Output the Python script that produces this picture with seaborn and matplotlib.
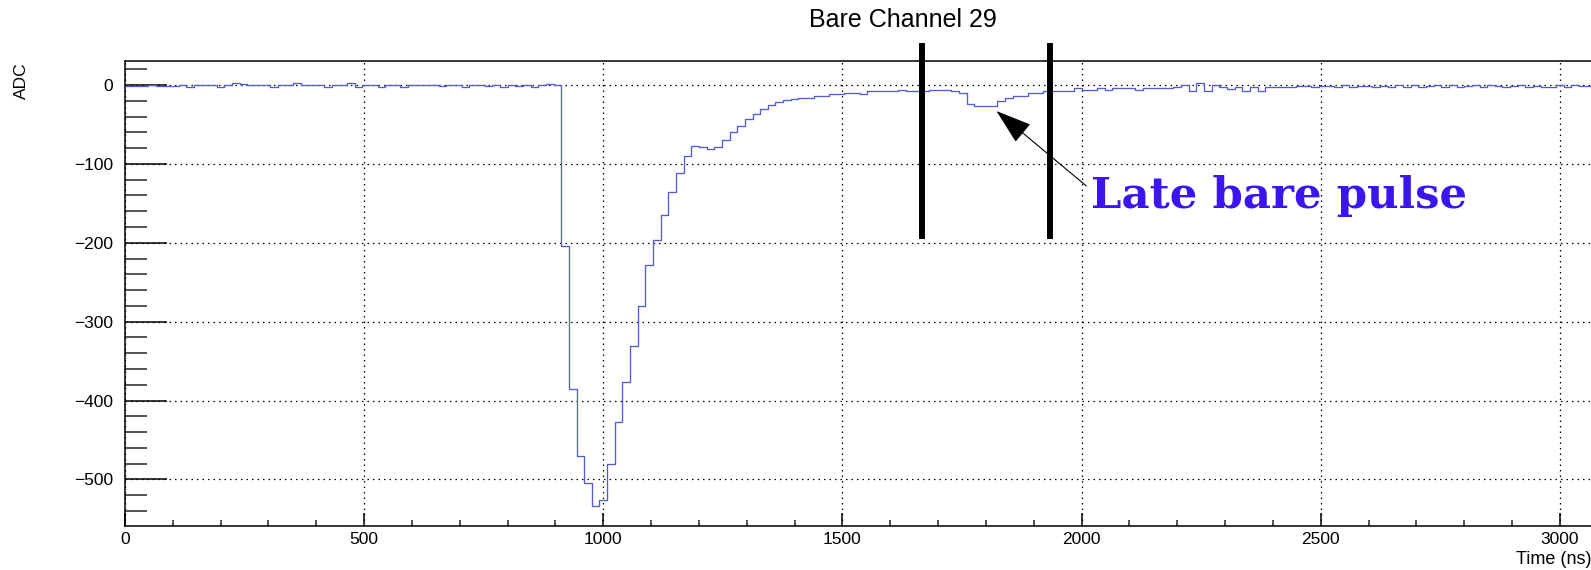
import numpy as np
import pandas as pd
import matplotlib
matplotlib.use("Agg")
import matplotlib.pyplot as plt
import seaborn as sns
from matplotlib.ticker import MultipleLocator

# ---------------- data ----------------
bin_width = 16  # ns
baseline_part = [-1, -1, -1, 0, -1, -1, -1, 0, -3, 0, 0, 0, -3, 0, 2, 1, 0, 0, 0, -3,
                 0, 0, 2, 0, 0, 0, -3, 0, 0, 2, -3, 0, 0, -2, 0, 0, -2, 0, 0, 0,
                 0, -1, 0, 0, -2, 0, 0, -1, 0, -2, 0, -1, 0, -2, 0, 1, 0]
pulse_part = [-204, -385, -470, -504, -534, -526, -480, -427, -377, -331,
              -280, -228, -196, -165, -135, -111, -90, -77, -79, -81,
              -79, -70, -59, -52, -43, -37, -30, -25, -22, -19,
              -18, -16, -16, -14, -14, -12, -12, -10, -10, -12,
              -8, -8, -8, -8, -6, -8, -8, -8, -6, -6,
              -6, -8, -10]
late_part = [-24, -27, -27, -27, -20, -17, -14, -14, -10, -10,
             -8, -8, -8, -8, -4, -6, -6, -4, -6, -4,
             -4, -4, -6, -4, -4, -4, -4, -2, 0, -7,
             2, -7, 0, -2, -5, -2, -8, -2, -8, -2]
tail_part = [-2, -2, -3, -1, -1, -3, -1, -1, -3, 0,
             -3, -1, -1, -3, -1, -2, 0, -2, 0, -3,
             -1, 0, -2, 0, -3, -1, 0, -2, 0, -1,
             -3, -1, 0, -2, -1, -3, -3, 0, -2, 0,
             -1, -1]
adc_values = baseline_part + pulse_part + late_part + tail_part
n_bins = len(adc_values)
time_centers = np.arange(n_bins) * bin_width + bin_width / 2

cut_lines_ns = [1667, 1934]
title_text = "Bare Channel 29"
annotation_text = "Late bare pulse"
arrow_tip = (1822, -33)
arrow_tail = (2010, -128)
x_label = "Time (ns)"
y_label = "ADC"

df = pd.DataFrame({"time": time_centers, "adc": adc_values})

# ---------------- style ----------------
sns.set_style("ticks")
plt.rcParams["font.family"] = ["Liberation Sans", "DejaVu Sans"]
plt.rcParams["axes.unicode_minus"] = True
plt.rcParams["text.color"] = "black"

W, H = 1591, 570
fig = plt.figure(figsize=(W / 100, H / 100), dpi=100)
ax_left, ax_right_px = 125, 1594.3
ax_top_px, ax_bot_px = 61, 525.5
ax = fig.add_axes([ax_left / W, 1 - ax_bot_px / H,
                   (ax_right_px - ax_left) / W, (ax_bot_px - ax_top_px) / H])

sns.histplot(data=df, x="time", weights="adc", binwidth=bin_width,
             binrange=(0, n_bins * bin_width),
             element="step", fill=False, color="#5a5ad0", linewidth=0.95, ax=ax)

ax.set_xlim(0, 3072)
ax.set_ylim(-558.3, 30.4)

# ROOT-like axes
for side in ["left", "bottom", "top", "right"]:
    ax.spines[side].set_linewidth(1.1)
    ax.spines[side].set_color("black")
ax.xaxis.set_major_locator(MultipleLocator(500))
ax.xaxis.set_minor_locator(MultipleLocator(100))
ax.yaxis.set_major_locator(MultipleLocator(100))
ax.yaxis.set_minor_locator(MultipleLocator(20))
ax.tick_params(axis="y", which="major", direction="in", length=30, width=1.1,
               labelsize=12.5, pad=8.5, colors="black")
ax.tick_params(axis="y", which="minor", direction="in", length=16, width=1.1)
ax.tick_params(axis="x", which="major", direction="in", length=9.4, width=1.1,
               labelsize=12.5, pad=4.5, colors="black")
ax.tick_params(axis="x", which="minor", direction="in", length=4.3, width=1.1)
ax.tick_params(top=False, right=False, which="both")
ax.grid(True, which="major", color="black", linestyle=(0, (1.2, 3.2)), linewidth=0.9)
ax.set_axisbelow(True)
ax.set_xlabel("")
ax.set_ylabel("")

# vertical cut lines
ax.vlines(cut_lines_ns, -195, 53.6, color="black", linewidth=4.3, clip_on=False, zorder=5)

# annotation arrow
ax.annotate("", xy=arrow_tip, xytext=arrow_tail,
            arrowprops=dict(arrowstyle="-|>,head_length=2.3,head_width=0.75",
                            mutation_scale=10, color="black", lw=0.8,
                            shrinkA=0, shrinkB=0), zorder=6)
fig.text(1090.7 / W, 1 - 208.3 / H, annotation_text, family="DejaVu Serif",
         fontweight="bold", fontsize=31.2, color="#3c14f0", ha="left", va="baseline")

# titles / labels
fig.text(903 / W, 1 - 20.3 / H, title_text, fontsize=18, ha="center", va="center",
         color="black")
fig.text(21.7 / W, 1 - 62 / H, y_label, fontsize=12.5, rotation=90, ha="center",
         va="top", color="black")
fig.text(1591 / W, 1 - 559 / H, x_label, fontsize=13, ha="right", va="center",
         color="black")

fig.savefig("out.png", dpi=100, facecolor="white")
